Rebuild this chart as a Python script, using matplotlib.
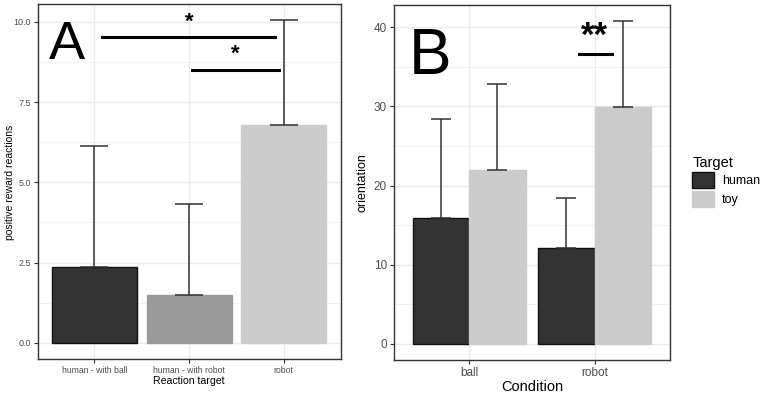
import matplotlib.pyplot as plt
import numpy as np

plt.rcParams['font.family'] = ['Liberation Sans', 'DejaVu Sans']

# panel A data
targets = ["human - with ball", "human - with robot", "robot"]
reactions = [2.37, 1.49, 6.80]
reactions_err = [3.75, 2.85, 3.26]
target_colors = ["#333333", "#999999", "#CCCCCC"]

# panel B data
conditions = ["ball", "robot"]
human_orient = [15.85, 12.1]
human_err = [12.6, 6.35]
toy_orient = [21.98, 29.93]
toy_err = [10.8, 10.8]


def style_axes(ax, ymin, ymax, major, minor):
    ax.set_facecolor("white")
    ax.set_ylim(ymin, ymax)
    ax.set_yticks(major)
    ax.set_yticks(minor, minor=True)
    ax.grid(which="major", color="#EBEBEB", linewidth=1.0, zorder=0)
    ax.grid(which="minor", axis="y", color="#EBEBEB", linewidth=0.5, zorder=0)
    ax.set_axisbelow(True)
    for s in ax.spines.values():
        s.set_color("#333333")
        s.set_linewidth(1.0)
    ax.tick_params(which="major", color="#333333", length=3, width=0.8,
                   labelcolor="#4D4D4D", pad=2)
    ax.tick_params(which="minor", length=0)


fig = plt.figure(figsize=(7.65, 3.94), dpi=100)

# ---- A ----
axA = fig.add_axes([0.0493, 0.0888, 0.3958, 0.901])
xa = np.arange(1, len(targets) + 1)
edgesA = ["#111111", target_colors[1], target_colors[2]]
axA.bar(xa, reactions, width=0.9, color=target_colors, edgecolor=edgesA, linewidth=1, zorder=2)
axA.errorbar(xa, reactions, yerr=[np.zeros(3), reactions_err], fmt="none",
             ecolor="#333333", elinewidth=1.1, capsize=10, capthick=1.1, zorder=3)
axA.set_xlim(0.4, 3.6)
axA.set_xticks(xa)
axA.set_xticklabels(targets, fontsize=6.2)
style_axes(axA, -0.5025, 10.5525, [0, 2.5, 5, 7.5, 10], [1.25, 3.75, 6.25, 8.75])
axA.set_yticklabels(["0.0", "2.5", "5.0", "7.5", "10.0"], fontsize=6.5)
axA.set_xlabel("Reaction target", fontsize=7.6)
axA.xaxis.set_label_coords(0.5, -(384 - 359) / 355)
axA.xaxis.label.set_verticalalignment("baseline")
axA.set_ylabel("positive reward reactions", fontsize=7.5)
axA.yaxis.set_label_coords((10 - 37.7) / 302.8, 0.497)
axA.yaxis.label.set_verticalalignment("center")
axA.text(0.52, 8.85, "A", fontsize=39, va="baseline", ha="left")
axA.plot([1.08, 2.91], [9.52, 9.52], color="black", linewidth=2.2, zorder=4)
axA.plot([2.03, 2.95], [8.51, 8.51], color="black", linewidth=2.2, zorder=4)
axA.text(2.0, 9.82, "*", fontsize=16, fontweight="bold", ha="center", va="baseline")
axA.text(2.49, 8.82, "*", fontsize=16, fontweight="bold", ha="center", va="baseline")

# ---- B ----
axB = fig.add_axes([0.515, 0.0863, 0.3608, 0.9018])
xb = np.arange(1, len(conditions) + 1)
w = 0.45
axB.bar(xb - w / 2, human_orient, width=w, color="#333333", edgecolor="#111111", linewidth=1,
        zorder=2, label="human")
axB.bar(xb + w / 2, toy_orient, width=w, color="#CCCCCC", edgecolor="#CCCCCC", linewidth=1,
        zorder=2, label="toy")
axB.errorbar(xb - w / 2, human_orient, yerr=[np.zeros(2), human_err], fmt="none",
             ecolor="#333333", elinewidth=1.1, capsize=7, capthick=1.1, zorder=3)
axB.errorbar(xb + w / 2, toy_orient, yerr=[np.zeros(2), toy_err], fmt="none",
             ecolor="#333333", elinewidth=1.1, capsize=7, capthick=1.1, zorder=3)
axB.set_xlim(0.4, 2.6)
axB.set_xticks(xb)
axB.set_xticklabels(conditions, fontsize=8.5)
style_axes(axB, -2.04, 42.84, [0, 10, 20, 30, 40], [5, 15, 25, 35])
axB.tick_params(axis="y", labelsize=8.5)
axB.set_xlabel("Condition", fontsize=10.5)
axB.xaxis.set_label_coords(0.5, -(391 - 360) / 355.3)
axB.xaxis.label.set_verticalalignment("baseline")
axB.set_ylabel("orientation", fontsize=9)
axB.yaxis.set_label_coords((362.7 - 394) / 276, 0.5)
axB.yaxis.label.set_verticalalignment("center")
axB.text(0.52, 34.05, "B", fontsize=46, va="baseline", ha="left")
axB.plot([1.874, 2.134], [36.57, 36.57], color="black", linewidth=2.2, zorder=4)
axB.text(2.0, 37.6, "**", fontsize=25, fontweight="bold", ha="center", va="baseline")

leg = axB.legend(title="Target", loc="upper left", bbox_to_anchor=(1.063, 0.589),
                 frameon=False, fontsize=9, title_fontsize=10.5,
                 handlelength=1.75, handleheight=1.6, handletextpad=0.6,
                 labelspacing=0.2, borderaxespad=0)
leg._legend_box.align = "left"

fig.savefig("out.png", dpi=100)
